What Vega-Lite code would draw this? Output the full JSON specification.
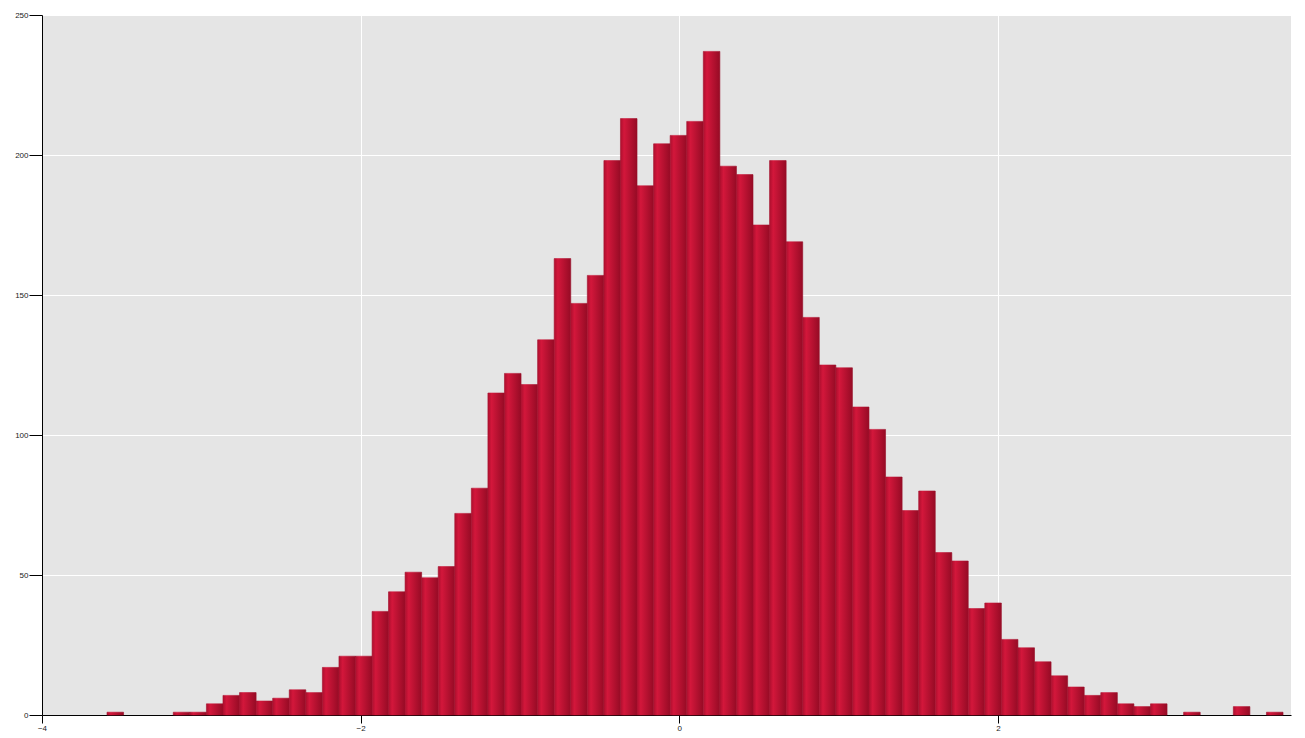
{
  "$schema": "https://vega.github.io/schema/vega-lite/v6.json",
  "width": 1249,
  "height": 700,
  "padding": {"left": 42, "top": 15, "right": 14, "bottom": 23},
  "autosize": {"type": "none"},
  "background": "white",
  "config": {
    "view": {"stroke": null, "fill": "#e5e5e5"},
    "font": "Liberation Sans",
    "axis": {
      "gridColor": "white",
      "gridWidth": 1,
      "gridOpacity": 1,
      "domainColor": "black",
      "domainWidth": 1,
      "tickColor": "black",
      "labelFontSize": 8,
      "labelColor": "#222222",
      "labelFont": "Liberation Sans",
      "title": null
    }
  },
  "data": {
    "values": [
      {"x0": -3.592, "x1": -3.488, "count": 1},
      {"x0": -3.176, "x1": -3.072, "count": 1},
      {"x0": -3.072, "x1": -2.968, "count": 1},
      {"x0": -2.968, "x1": -2.864, "count": 4},
      {"x0": -2.864, "x1": -2.760, "count": 7},
      {"x0": -2.760, "x1": -2.656, "count": 8},
      {"x0": -2.656, "x1": -2.552, "count": 5},
      {"x0": -2.552, "x1": -2.448, "count": 6},
      {"x0": -2.448, "x1": -2.344, "count": 9},
      {"x0": -2.344, "x1": -2.240, "count": 8},
      {"x0": -2.240, "x1": -2.136, "count": 17},
      {"x0": -2.136, "x1": -2.032, "count": 21},
      {"x0": -2.032, "x1": -1.928, "count": 21},
      {"x0": -1.928, "x1": -1.825, "count": 37},
      {"x0": -1.825, "x1": -1.721, "count": 44},
      {"x0": -1.721, "x1": -1.617, "count": 51},
      {"x0": -1.617, "x1": -1.513, "count": 49},
      {"x0": -1.513, "x1": -1.409, "count": 53},
      {"x0": -1.409, "x1": -1.305, "count": 72},
      {"x0": -1.305, "x1": -1.201, "count": 81},
      {"x0": -1.201, "x1": -1.097, "count": 115},
      {"x0": -1.097, "x1": -0.993, "count": 122},
      {"x0": -0.993, "x1": -0.889, "count": 118},
      {"x0": -0.889, "x1": -0.785, "count": 134},
      {"x0": -0.785, "x1": -0.681, "count": 163},
      {"x0": -0.681, "x1": -0.577, "count": 147},
      {"x0": -0.577, "x1": -0.473, "count": 157},
      {"x0": -0.473, "x1": -0.369, "count": 198},
      {"x0": -0.369, "x1": -0.265, "count": 213},
      {"x0": -0.265, "x1": -0.161, "count": 189},
      {"x0": -0.161, "x1": -0.057, "count": 204},
      {"x0": -0.057, "x1": 0.047, "count": 207},
      {"x0": 0.047, "x1": 0.151, "count": 212},
      {"x0": 0.151, "x1": 0.255, "count": 237},
      {"x0": 0.255, "x1": 0.359, "count": 196},
      {"x0": 0.359, "x1": 0.463, "count": 193},
      {"x0": 0.463, "x1": 0.567, "count": 175},
      {"x0": 0.567, "x1": 0.671, "count": 198},
      {"x0": 0.671, "x1": 0.775, "count": 169},
      {"x0": 0.775, "x1": 0.879, "count": 142},
      {"x0": 0.879, "x1": 0.983, "count": 125},
      {"x0": 0.983, "x1": 1.087, "count": 124},
      {"x0": 1.087, "x1": 1.191, "count": 110},
      {"x0": 1.191, "x1": 1.295, "count": 102},
      {"x0": 1.295, "x1": 1.399, "count": 85},
      {"x0": 1.399, "x1": 1.503, "count": 73},
      {"x0": 1.503, "x1": 1.607, "count": 80},
      {"x0": 1.607, "x1": 1.711, "count": 58},
      {"x0": 1.711, "x1": 1.814, "count": 55},
      {"x0": 1.814, "x1": 1.918, "count": 38},
      {"x0": 1.918, "x1": 2.022, "count": 40},
      {"x0": 2.022, "x1": 2.126, "count": 27},
      {"x0": 2.126, "x1": 2.230, "count": 24},
      {"x0": 2.230, "x1": 2.334, "count": 19},
      {"x0": 2.334, "x1": 2.438, "count": 14},
      {"x0": 2.438, "x1": 2.542, "count": 10},
      {"x0": 2.542, "x1": 2.646, "count": 7},
      {"x0": 2.646, "x1": 2.750, "count": 8},
      {"x0": 2.750, "x1": 2.854, "count": 4},
      {"x0": 2.854, "x1": 2.958, "count": 3},
      {"x0": 2.958, "x1": 3.062, "count": 4},
      {"x0": 3.166, "x1": 3.270, "count": 1},
      {"x0": 3.478, "x1": 3.582, "count": 3},
      {"x0": 3.686, "x1": 3.790, "count": 1}
    ]
  },
  "mark": {
    "type": "rect",
    "fill": {
      "gradient": "linear",
      "x1": 0, "y1": 0, "x2": 1, "y2": 0,
      "stops": [
        {"offset": 0, "color": "#ad0f2e"},
        {"offset": 0.22, "color": "#d3173b"},
        {"offset": 1, "color": "#960b25"}
      ]
    },
    "stroke": {
      "gradient": "linear",
      "x1": 0, "y1": 0, "x2": 1, "y2": 0,
      "stops": [
        {"offset": 0, "color": "#a30d2a"},
        {"offset": 0.22, "color": "#d3173b"},
        {"offset": 1, "color": "#960b25"}
      ]
    },
    "strokeWidth": 0.6
  },
  "encoding": {
    "x": {
      "field": "x0",
      "type": "quantitative",
      "scale": {"domain": [-4, 3.84], "nice": false, "zero": false},
      "axis": {"values": [-4, -2, 0, 2], "tickSize": 8, "labelPadding": 1, "grid": true, "labelFlush": false}
    },
    "x2": {"field": "x1"},
    "y": {
      "field": "count",
      "type": "quantitative",
      "scale": {"domain": [0, 250], "nice": false},
      "axis": {"values": [0, 50, 100, 150, 200, 250], "tickSize": 13, "labelPadding": 1, "grid": true, "labelFlush": false}
    }
  }
}
